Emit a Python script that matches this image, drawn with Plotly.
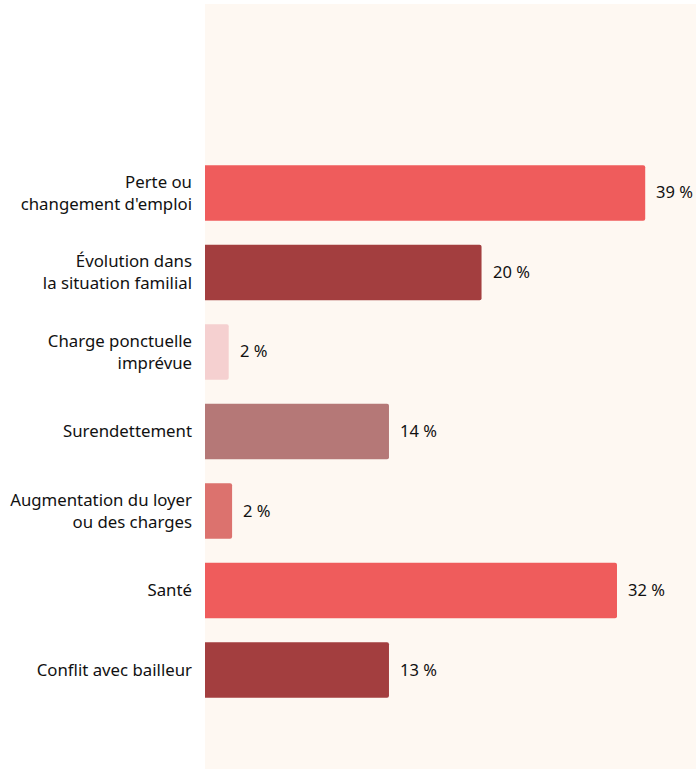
import plotly.graph_objects as go

categories = ["Perte ou<br>changement d'emploi", "Évolution dans<br>la situation familial",
              "Charge ponctuelle<br>imprévue", "Surendettement",
              "Augmentation du loyer<br>ou des charges", "Santé", "Conflit avec bailleur"]
bar_values = [39, 24.5, 2.1, 16.3, 2.4, 36.5, 16.3]
pct_labels = ["39 %", "20 %", "2 %", "14 %", "2 %", "32 %", "13 %"]
colors = ["#ef5c5c", "#a33e3f", "#f5d0d0", "#b57877", "#dc726e", "#ef5c5c", "#a33e3f"]

fig = go.Figure(go.Bar(
    y=categories, x=bar_values, orientation="h",
    marker=dict(color=colors, line=dict(width=0), cornerradius=2),
    width=0.7, hoverinfo="skip",
))

for c, v, t in zip(categories, bar_values, pct_labels):
    fig.add_annotation(x=v, y=c, text=t, showarrow=False, xanchor="left",
                       xshift=9, yshift=1, font=dict(size=16.5, color="#111111"))

fig.update_layout(
    width=696, height=769,
    margin=dict(l=205, r=0, t=4, b=0),
    paper_bgcolor="white", plot_bgcolor="#fef8f2",
    font=dict(family="Noto Sans", size=16.8, color="#111111"),
    showlegend=False,
    xaxis=dict(range=[0, 43.5], showgrid=False, zeroline=False, showticklabels=False,
               fixedrange=True),
    yaxis=dict(type="category", range=[7.245, -2.377], showgrid=False, zeroline=False,
               ticks="", ticklabelstandoff=12, fixedrange=True),
)

fig.write_html("out.html", config={"displayModeBar": False},
               post_script="document.body.style.margin='0';document.body.style.overflow='hidden';")
